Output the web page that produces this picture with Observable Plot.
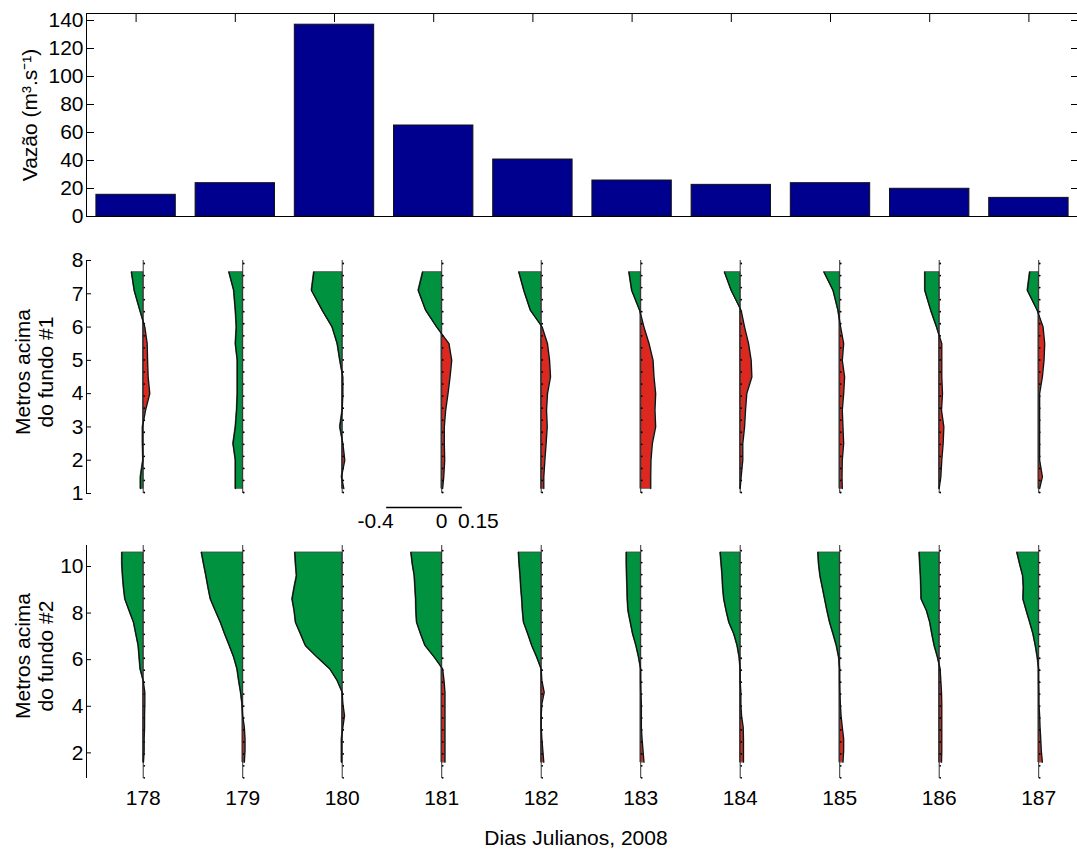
<!DOCTYPE html>
<html><head><meta charset="utf-8">
<script src="https://cdn.jsdelivr.net/npm/d3@7"></script>
<script src="https://cdn.jsdelivr.net/npm/@observablehq/plot@0.6"></script>
<style>
body{margin:0;background:#fff;}
#chart{width:1077px;height:850px;position:relative;overflow:hidden;background:#fff}
#chart svg{display:block}
</style></head><body><div id="chart"></div>
<script>
// ---------- data ----------
const days = [178, 179, 180, 181, 182, 183, 184, 185, 186, 187];
const vazao = [15.5, 23.8, 137, 65, 40.7, 25.7, 22.6, 23.8, 19.8, 13.3];
const yTicksVazao = [0, 20, 40, 60, 80, 100, 120, 140];

// fundo #1: levels (m above bottom), velocity per day (bottom -> top)
const levels1 = [1.15, 1.5, 2, 2.5, 3, 3.5, 4, 4.5, 5, 5.5, 6, 6.5, 7.1, 7.65];
const vel1 = [
  [-0.02, -0.02, -0.002, -0.005, -0.005, 0.017, 0.048, 0.036, 0.032, 0.029, 0.012, -0.024, -0.065, -0.085],
  [-0.053, -0.053, -0.053, -0.07, -0.053, -0.044, -0.039, -0.039, -0.039, -0.053, -0.046, -0.053, -0.065, -0.10],
  [0.012, -0.005, 0.019, 0.005, -0.017, 0, 0.005, 0.005, -0.017, -0.036, -0.073, -0.145, -0.223, -0.206],
  [0.007, 0.015, 0.022, 0.019, 0.019, 0.029, 0.046, 0.061, 0.073, 0.053, -0.036, -0.116, -0.170, -0.138],
  [0.019, 0.019, 0.027, 0.036, 0.044, 0.039, 0.046, 0.068, 0.061, 0.046, 0.007, -0.078, -0.126, -0.162],
  [0.073, 0.073, 0.075, 0.085, 0.109, 0.104, 0.109, 0.097, 0.090, 0.061, 0.024, -0.007, -0.065, -0.085],
  [0, 0.007, 0.019, 0.019, 0.032, 0.039, 0.048, 0.085, 0.08, 0.061, 0.032, 0.007, -0.065, -0.114],
  [0.019, 0.017, 0.019, 0.029, 0.024, 0.019, 0.029, 0.036, 0.019, 0.029, 0.007, -0.012, -0.048, -0.114],
  [0, 0.012, 0.019, 0.029, 0.034, 0.017, 0.024, 0.019, 0.019, 0.019, -0.019, -0.061, -0.104, -0.104],
  [0.007, 0.027, 0.007, 0.007, 0.007, 0.007, 0.007, 0.027, 0.039, 0.044, 0.032, -0.010, -0.082, -0.065]
];
const yTicks1 = [1, 2, 3, 4, 5, 6, 7, 8];

// fundo #2
const levels2 = [1.6, 2.1, 2.6, 3.1, 3.6, 4.1, 4.6, 5.1, 5.6, 6.1, 6.6, 7.1, 7.6, 8.1, 8.6, 9.1, 9.6, 10.1, 10.6];
const vel2 = [
  [0.002, 0.007, 0.007, 0.010, 0.010, 0.012, 0.012, 0, -0.022, -0.029, -0.036, -0.053, -0.070, -0.102, -0.133, -0.143, -0.150, -0.155, -0.155],
  [0.012, 0.017, 0.017, 0.012, 0, -0.005, -0.015, -0.029, -0.041, -0.065, -0.097, -0.131, -0.162, -0.199, -0.235, -0.252, -0.267, -0.284, -0.30],
  [-0.005, -0.005, -0.005, 0.005, 0.017, 0.005, 0, -0.036, -0.090, -0.182, -0.267, -0.303, -0.339, -0.349, -0.364, -0.349, -0.332, -0.339, -0.344],
  [0.024, 0.024, 0.024, 0.024, 0.024, 0.024, 0.024, 0.017, 0.007, -0.053, -0.121, -0.153, -0.182, -0.187, -0.189, -0.194, -0.199, -0.213, -0.223],
  [0.019, 0.012, 0.005, 0, 0, 0.005, 0.022, 0.005, 0, -0.032, -0.068, -0.097, -0.128, -0.136, -0.141, -0.148, -0.153, -0.160, -0.165],
  [0.024, 0.017, 0.010, 0.005, 0.005, 0.005, 0.002, 0, 0, -0.015, -0.034, -0.058, -0.075, -0.092, -0.097, -0.099, -0.102, -0.104, -0.104],
  [0.024, 0.024, 0.024, 0.022, 0.010, 0.005, 0.005, 0, 0, -0.007, -0.022, -0.046, -0.082, -0.102, -0.119, -0.127, -0.131, -0.138, -0.145],
  [0.024, 0.029, 0.029, 0.019, 0.010, 0.005, 0.002, 0, 0, -0.007, -0.024, -0.048, -0.073, -0.092, -0.109, -0.126, -0.143, -0.153, -0.158],
  [0.017, 0.019, 0.019, 0.019, 0.019, 0.019, 0.017, 0.012, 0.007, -0.012, -0.036, -0.053, -0.068, -0.092, -0.131, -0.133, -0.136, -0.141, -0.145],
  [0.027, 0.019, 0.015, 0.010, 0.007, 0.002, 0.002, 0, 0, -0.010, -0.024, -0.041, -0.065, -0.090, -0.114, -0.111, -0.116, -0.138, -0.158]
];
const yTicks2 = [2, 4, 6, 8, 10];

// scale bar (velocity, m/s) drawn under day 181
const scaleDay = 181;
const scaleTicks = [-0.4, 0, 0.15];

const labelVazao = "Vazão (m³.s⁻¹)";
const label1 = "Metros acima\ndo fundo #1";
const label2 = "Metros acima\ndo fundo #2";
const labelX = "Dias Julianos, 2008";

// ---------- style ----------
const FONT = "'Liberation Sans', Arial, Helvetica, sans-serif";
const NAVY = "#00008f", GREEN = "#00923f", RED = "#dc281e";
const FS = 21;
const K = 1.383;          // days of x-axis per 1 m/s of velocity
const W = 1077;
const style = {fontFamily: FONT, fontSize: FS + "px", overflow: "visible", background: "transparent", color: "#000"};

// ---------- helpers ----------
function profilePoints(levels, vel) {
  const pts = [];
  days.forEach((day, j) => {
    const v = vel[j];
    for (let i = 0; i < levels.length; i++) {
      if (i > 0 && v[i - 1] * v[i] < 0) {
        const t = v[i - 1] / (v[i - 1] - v[i]);
        pts.push({day, y: levels[i - 1] + t * (levels[i] - levels[i - 1]), v: 0});
      }
      pts.push({day, y: levels[i], v: v[i]});
    }
  });
  return pts;
}
function dotRows(lo, hi) {
  const rows = [];
  days.forEach(day => d3.range(20).forEach(i => rows.push({day, y: lo + (hi - lo) * i / 19})));
  return rows;
}
function profileMarks(levels, vel, dotLo, dotHi) {
  const pts = profilePoints(levels, vel);
  return [
    Plot.areaX(pts, {y: "y", x1: "day", x2: d => d.day + Math.max(d.v, 0) * K, z: "day", fill: RED, stroke: "#444", strokeWidth: 0.8}),
    Plot.areaX(pts, {y: "y", x1: "day", x2: d => d.day + Math.min(d.v, 0) * K, z: "day", fill: GREEN, stroke: "#444", strokeWidth: 0.8}),
    Plot.ruleX(days, {stroke: "#333", strokeWidth: 1}),
    Plot.dot(dotRows(dotLo, dotHi), {x: "day", y: "y", r: 0.9, fill: "#000", stroke: null, dx: 1}),
    Plot.lineX(pts, {y: "y", x: d => d.day + d.v * K, z: "day", stroke: "#111", strokeWidth: 1.3})
  ];
}
const ylab = (txt, dx, dy) => Plot.text([txt], {frameAnchor: "left", textAnchor: "middle", lineAnchor: "middle", rotate: -90, dx, dy, text: d => d, fontSize: FS, lineHeight: 1.1});

const chart = document.getElementById("chart");

// ---------- panel 1: Vazão ----------
const xDom1 = [177.5, 187.5];
const yDom1 = [0, 145];
const bars = days.map((day, i) => ({day, q: vazao[i]}));
chart.appendChild(Plot.plot({
  width: W, height: 236, marginTop: 13, marginBottom: 20, marginLeft: 86, marginRight: -1,
  style,
  x: {domain: xDom1, axis: null},
  y: {domain: yDom1, axis: null},
  marks: [
    Plot.rectY(bars, {x1: d => d.day - 0.4, x2: d => d.day + 0.4, y1: 0, y2: "q", fill: NAVY, stroke: "#111", strokeWidth: 1}),
    Plot.ruleY([yDom1[0]], {stroke: "#000"}),
    Plot.ruleY([yDom1[1]], {stroke: "#000"}),
    Plot.ruleX([xDom1[0]], {stroke: "#000"}),
    Plot.axisY(yTicksVazao, {anchor: "left", tickSize: -8, tickPadding: 11, label: null, fontSize: FS}),
    Plot.axisY(yTicksVazao, {anchor: "right", tickSize: -8, tickFormat: () => "", label: null}),
    Plot.axisX(days, {anchor: "top", tickSize: -8, tickFormat: () => "", label: null}),
    ylab(labelVazao, -57, 0)
  ]
}));

// ---------- panel 2: fundo #1 ----------
const xDom2 = [177.43, 187.39];
const yDom2 = [1, 8];
chart.appendChild(Plot.plot({
  width: W, height: 300, marginTop: 24, marginBottom: 43, marginLeft: 86, marginRight: 0,
  style,
  x: {domain: xDom2, axis: null},
  y: {domain: yDom2, axis: null},
  marks: [
    ...profileMarks(levels1, vel1, 1.03, 7.91),
    Plot.ruleX([xDom2[0]], {stroke: "#000"}),
    Plot.axisY(yTicks1, {anchor: "left", tickSize: -5, tickPadding: 8, label: null, fontSize: FS}),
    Plot.ruleY([yDom2[0]], {x1: scaleDay + scaleTicks[0] * K, x2: scaleDay + scaleTicks[2] * K, dy: 14, stroke: "#000", strokeWidth: 1.5}),
    Plot.text([scaleTicks[0]], {x: d => scaleDay + d * K, y: yDom2[0], dy: 28, dx: -11, text: d => String(d), fontSize: FS}),
    Plot.text([scaleTicks[1]], {x: d => scaleDay + d * K, y: yDom2[0], dy: 28, dx: 0, text: d => String(d), fontSize: FS}),
    Plot.text([scaleTicks[2]], {x: d => scaleDay + d * K, y: yDom2[0], dy: 28, dx: 16, text: d => String(d), fontSize: FS}),
    ylab(label1, -52, -5)
  ]
}));

// ---------- panel 3: fundo #2 ----------
const xDom3 = [177.43, 187.39];
const yDom3 = [0.9, 10.9];
chart.appendChild(Plot.plot({
  width: W, height: 314, marginTop: 9, marginBottom: 72, marginLeft: 86, marginRight: 0,
  style,
  x: {domain: xDom3, axis: null},
  y: {domain: yDom3, axis: null},
  marks: [
    ...profileMarks(levels2, vel2, 0.93, 10.68),
    Plot.ruleX([xDom3[0]], {stroke: "#000"}),
    Plot.axisY(yTicks2, {anchor: "left", tickSize: -5, tickPadding: 8, label: null, fontSize: FS}),
    Plot.axisX(days, {anchor: "bottom", tickSize: 0, tickPadding: 12, label: null, fontSize: FS, tickFormat: d => String(d)}),
    ylab(label2, -52, -6),
    Plot.text([labelX], {frameAnchor: "bottom", lineAnchor: "middle", dy: 60, dx: -6, text: d => d, fontSize: FS})
  ]
}));
</script></body></html>
